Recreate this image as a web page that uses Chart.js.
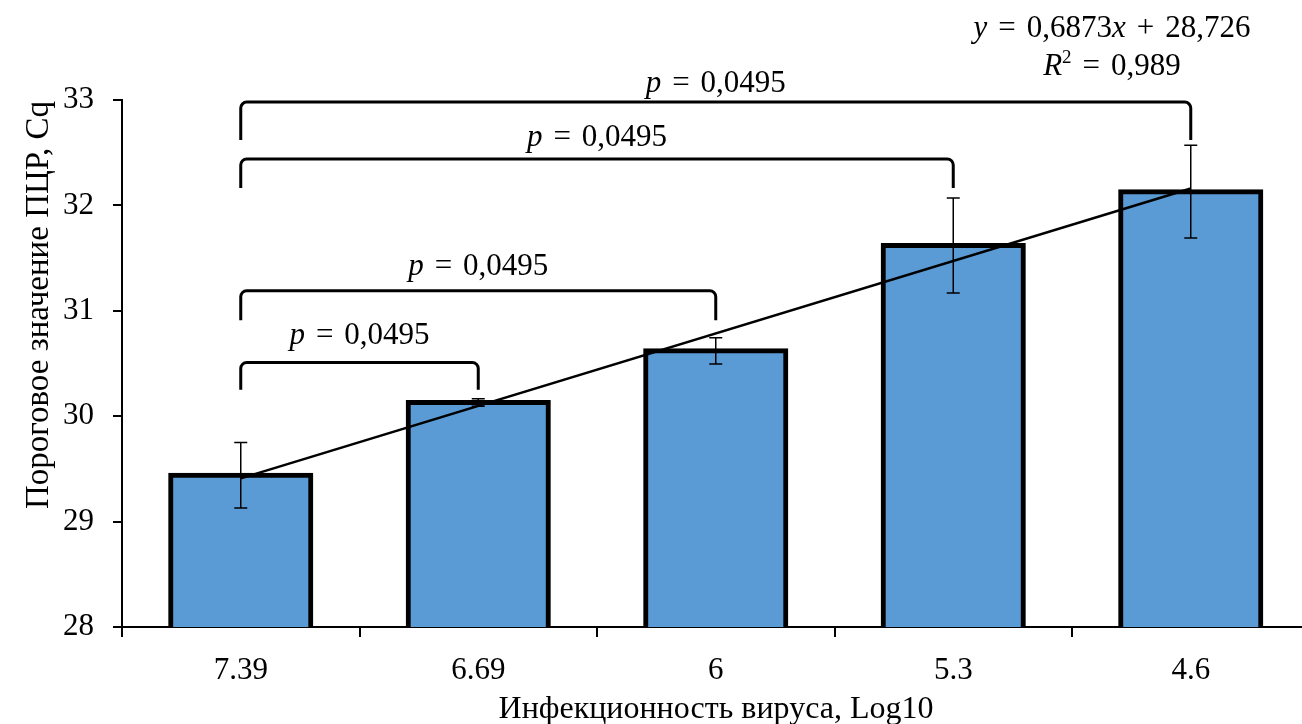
<!DOCTYPE html>
<html>
<head>
<meta charset="utf-8">
<script src="https://cdn.jsdelivr.net/npm/chart.js@4/dist/chart.umd.min.js"></script>
<style>
    html, body { margin: 0; padding: 0; background: #fff; }
    #wrap { width: 1302px; height: 724px; overflow: hidden; position: relative; }
    canvas { display: block; }
</style>
</head>
<body>
<div id="wrap">
    <canvas id="cqChart" width="1312" height="724" style="width:1312px;height:724px"></canvas>
</div>
<script>
// virus infectivity (Log10) on x, PCR threshold Cq on y
const labels = ['7.39', '6.69', '6', '5.3', '4.6'];
const cqMean = [29.44, 30.13, 30.62, 31.62, 32.13];
const cqErr = [0.31, 0.035, 0.125, 0.45, 0.44];
// linear trend, read at first and last bar
const trendLine = [29.41, null, null, null, 32.16];
const yTicks = [28, 29, 30, 31, 32, 33];

// significance brackets: from first bar to bar index in bracketTo
const bracketTo = [1, 2, 3, 4];
const bracketTop = [30.51, 31.19, 32.44, 32.98];
const bracketFoot = [30.25, 30.91, 32.165, 32.62];
const pText = ['0,0495', '0,0495', '0,0495', '0,0495'];
const pBase = [30.685, 31.34, 32.56, 33.076];

const xTitle = 'Инфекционность вируса, Log10';
const yTitle = 'Пороговое значение ПЦР, Cq';

const FONT = "'Liberation Serif', 'Times New Roman', serif";

function drawRich(ctx, parts, cx, baseline, size) {
    const gap = 11;
    let total = 0;
    const fontOf = p => (p.i ? 'italic ' : '') + (p.sup ? Math.round(size * 0.62) : size) + 'px ' + FONT;
    parts.forEach(p => {
        if (p.g) { total += gap; return; }
        ctx.font = fontOf(p);
        p.w = ctx.measureText(p.t).width;
        total += p.w;
    });
    let x = cx - total / 2;
    ctx.textAlign = 'left';
    ctx.textBaseline = 'alphabetic';
    parts.forEach(p => {
        if (p.g) { x += gap; return; }
        ctx.font = fontOf(p);
        ctx.fillText(p.t, x, p.sup ? baseline - size * 0.38 : baseline);
        x += p.w;
    });
}

const annotations = {
    id: 'annotations',
    afterDatasetsDraw(chart) {
        const ctx = chart.ctx;
        const xs = chart.scales.x;
        const ys = chart.scales.y;
        ctx.save();
        ctx.fillStyle = '#000';
        ctx.strokeStyle = '#000';

        // error bars
        ctx.lineWidth = 1.5;
        cqMean.forEach((v, i) => {
            const x = xs.getPixelForValue(i);
            const top = ys.getPixelForValue(v + cqErr[i]);
            const bot = ys.getPixelForValue(v - cqErr[i]);
            ctx.beginPath();
            ctx.moveTo(x, top); ctx.lineTo(x, bot);
            ctx.moveTo(x - 6.5, top); ctx.lineTo(x + 6.5, top);
            ctx.moveTo(x - 6.5, bot); ctx.lineTo(x + 6.5, bot);
            ctx.stroke();
        });

        // brackets
        ctx.lineWidth = 3;
        const r = 6;
        bracketTo.forEach((j, k) => {
            const x1 = xs.getPixelForValue(0);
            const x2 = xs.getPixelForValue(j);
            const yt = ys.getPixelForValue(bracketTop[k]);
            const yb = ys.getPixelForValue(bracketFoot[k]);
            ctx.beginPath();
            ctx.moveTo(x1, yb);
            ctx.lineTo(x1, yt + r);
            ctx.arcTo(x1, yt, x1 + r, yt, r);
            ctx.lineTo(x2 - r, yt);
            ctx.arcTo(x2, yt, x2, yt + r, r);
            ctx.lineTo(x2, yb);
            ctx.stroke();
            drawRich(ctx, [{ t: 'p', i: 1 }, { g: 1 }, { t: '=' }, { g: 1 }, { t: pText[k] }],
                (x1 + x2) / 2, ys.getPixelForValue(pBase[k]), 31);
        });

        // trend equation
        drawRich(ctx, [{ t: 'y', i: 1 }, { g: 1 }, { t: '=' }, { g: 1 }, { t: '0,6873' }, { t: 'x', i: 1 },
            { g: 1 }, { t: '+' }, { g: 1 }, { t: '28,726' }], 1112, 37, 31);
        drawRich(ctx, [{ t: 'R', i: 1 }, { t: '2', sup: 1 }, { g: 1 }, { t: '=' }, { g: 1 }, { t: '0,989' }],
            1112, 75, 31);

        // axis titles
        ctx.textAlign = 'center';
        ctx.textBaseline = 'alphabetic';
        ctx.font = '32px ' + FONT;
        ctx.fillText(xTitle, 716, 718);
        ctx.font = '33px ' + FONT;
        ctx.translate(48, 305);
        ctx.rotate(-Math.PI / 2);
        ctx.fillText(yTitle, 0, 0);
        ctx.restore();
    }
};

const ctx = document.getElementById('cqChart').getContext('2d');
const cqChart = new Chart(ctx, {
    data: {
        labels: labels,
        datasets: [{
            type: 'line',
            data: trendLine,
            spanGaps: true,
            borderColor: '#000',
            borderWidth: 2.5,
            pointRadius: 0,
            order: 0
        }, {
            type: 'bar',
            data: cqMean,
            backgroundColor: '#5B9BD5',
            borderColor: '#000',
            borderWidth: 5,
            borderSkipped: false,
            inflateAmount: 2.5,
            categoryPercentage: 1,
            barPercentage: 0.59,
            order: 1
        }]
    },
    options: {
        responsive: false,
        animation: false,
        layout: { padding: { top: 100, right: 2.5, left: 0, bottom: 0 } },
        plugins: {
            legend: { display: false },
            tooltip: { enabled: false }
        },
        scales: {
            x: {
                offset: true,
                afterFit: s => { s.height = 97; },
                grid: { offset: true, drawOnChartArea: false, tickLength: 10, color: '#000', lineWidth: 2 },
                border: { color: '#000', width: 2 },
                ticks: { color: '#000', padding: 15, font: { family: FONT, size: 31 } }
            },
            y: {
                min: 28,
                max: 33,
                afterFit: s => { s.width = 122; },
                afterBuildTicks: s => { s.ticks = yTicks.map(v => ({ value: v })); },
                grid: { drawOnChartArea: false, tickLength: 9, color: '#000', lineWidth: 2 },
                border: { color: '#000', width: 2 },
                ticks: { color: '#000', padding: 19, font: { family: FONT, size: 31 } }
            }
        }
    },
    plugins: [annotations]
});
</script>
</body>
</html>
